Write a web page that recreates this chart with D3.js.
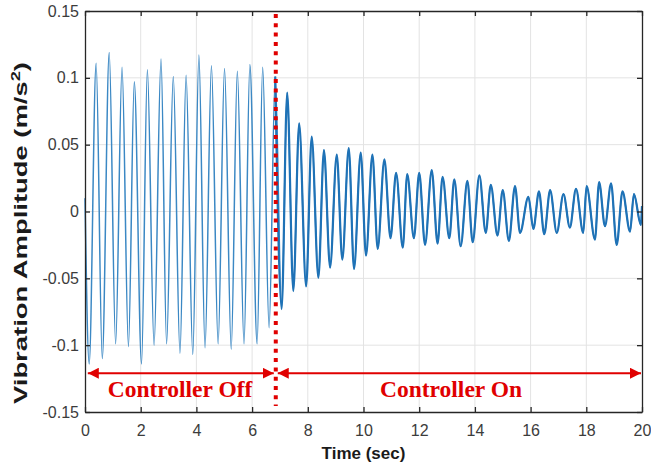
<!DOCTYPE html>
<html>
<head>
<meta charset="utf-8">
<script src="https://cdn.jsdelivr.net/npm/d3@7"></script>
<style>
  body { margin: 0; background: #fff; }
  text { font-family: "Liberation Sans", Arial, sans-serif; }
</style>
</head>
<body>
<div id="chart"></div>
<script>
// peaks and troughs (time in s, amplitude in m/s^2)
const peakTimes = [0.40, 0.87, 1.33, 1.77, 2.24, 2.73, 3.17, 3.63, 4.09, 4.54, 5.01, 5.47, 5.92, 6.38, 6.83,
  7.26, 7.69, 8.14, 8.58, 9.04, 9.47, 9.90, 10.32, 10.75, 11.17, 11.57, 12.00, 12.45, 12.84, 13.26, 13.73,
  14.16, 14.57, 15.00, 15.44, 15.92, 16.30, 16.70, 17.18, 17.63, 18.01, 18.46, 18.89, 19.30, 19.71];
const peakValues = [0.111, 0.119, 0.108, 0.097, 0.106, 0.114, 0.101, 0.102, 0.117, 0.109, 0.107, 0.105, 0.110, 0.108, 0.101,
  0.089, 0.066, 0.056, 0.046, 0.0425, 0.0475, 0.044, 0.0425, 0.039, 0.029, 0.028, 0.029, 0.031, 0.026, 0.024, 0.023,
  0.027, 0.020, 0.016, 0.019, 0.011, 0.015, 0.016, 0.013, 0.017, 0.019, 0.022, 0.021, 0.015, 0.013];
const troughTimes = [0.15, 0.62, 1.10, 1.56, 2.03, 2.48, 2.93, 3.41, 3.87, 4.31, 4.78, 5.25, 5.71, 6.18, 6.61,
  7.06, 7.48, 7.94, 8.38, 8.80, 9.24, 9.66, 10.09, 10.51, 10.97, 11.41, 11.81, 12.21, 12.66, 13.08, 13.49,
  13.92, 14.39, 14.81, 15.22, 15.62, 16.10, 16.49, 16.94, 17.41, 17.89, 18.31, 18.67, 19.09, 19.57, 19.96];
const troughValues = [-0.114, -0.110, -0.099, -0.101, -0.114, -0.100, -0.099, -0.106, -0.107, -0.102, -0.099, -0.103, -0.099, -0.099, -0.087,
  -0.073, -0.0595, -0.056, -0.0495, -0.042, -0.036, -0.043, -0.033, -0.028, -0.020, -0.027, -0.020, -0.025, -0.024, -0.020, -0.026,
  -0.023, -0.016, -0.018, -0.022, -0.016, -0.013, -0.017, -0.016, -0.012, -0.016, -0.021, -0.011, -0.025, -0.015, -0.010];
const startPoint = [0, 0.01];
const endPoint = [20, 0.004];

const xTicks = [0, 2, 4, 6, 8, 10, 12, 14, 16, 18, 20];
const yTicks = [-0.15, -0.1, -0.05, 0, 0.05, 0.1, 0.15];
const yTickLabels = ['-0.15', '-0.1', '-0.05', '0', '0.05', '0.1', '0.15'];
const switchTime = 6.85;
const arrowLevel = -0.121;

const width = 651, height = 465;
const margin = { top: 11, right: 9, bottom: 53, left: 85 };

const svg = d3.select('#chart').append('svg')
  .attr('width', width)
  .attr('height', height);
svg.append('rect').attr('width', width).attr('height', height).attr('fill', '#fff');

const x = d3.scaleLinear().domain([0, 20]).range([margin.left, width - margin.right]);
const y = d3.scaleLinear().domain([-0.15, 0.15]).range([height - margin.bottom, margin.top]);

// grid
svg.append('g').selectAll('line').data(xTicks.slice(1, -1)).join('line')
  .attr('x1', d => x(d)).attr('x2', d => x(d))
  .attr('y1', y(0.15)).attr('y2', y(-0.15))
  .attr('stroke', '#e3e3e3');
svg.append('g').selectAll('line').data(yTicks.slice(1, -1)).join('line')
  .attr('y1', d => y(d)).attr('y2', d => y(d))
  .attr('x1', x(0)).attr('x2', x(20))
  .attr('stroke', '#e3e3e3');

// signal: merge peaks and troughs in time order
let points = [startPoint];
peakTimes.forEach((t, i) => points.push([t, peakValues[i]]));
troughTimes.forEach((t, i) => points.push([t, troughValues[i]]));
points.push(endPoint);
points.sort((a, b) => a[0] - b[0]);

const line = d3.line()
  .x(d => x(d[0]))
  .y(d => y(d[1]))
  .curve(d3.curveMonotoneX);

svg.append('path').datum(points)
  .attr('d', line)
  .attr('fill', 'none')
  .attr('stroke', '#3b88c4')
  .attr('stroke-width', 1.5);

// controller-on part looks thicker (high-frequency fuzz)
svg.append('path').datum(points.filter(d => d[0] >= switchTime - 0.05))
  .attr('d', line)
  .attr('fill', 'none')
  .attr('stroke', '#1f72b6')
  .attr('stroke-width', 2.2);

// axes
const axisColor = '#262626';
const tickColor = '#3c3c3c';

const xAxis = svg.append('g')
  .attr('transform', `translate(0, ${y(-0.15)})`)
  .call(d3.axisBottom(x).tickValues(xTicks).tickSize(-5).tickSizeOuter(0).tickPadding(13));
const yAxis = svg.append('g')
  .attr('transform', `translate(${x(0)}, 0)`)
  .call(d3.axisLeft(y).tickValues(yTicks).tickFormat((d, i) => yTickLabels[i]).tickSize(-5).tickSizeOuter(0).tickPadding(6));
const topAxis = svg.append('g')
  .attr('transform', `translate(0, ${y(0.15)})`)
  .call(d3.axisTop(x).tickValues(xTicks).tickFormat('').tickSize(-5).tickSizeOuter(0));
const rightAxis = svg.append('g')
  .attr('transform', `translate(${x(20)}, 0)`)
  .call(d3.axisRight(y).tickValues(yTicks).tickFormat('').tickSize(-5).tickSizeOuter(0));

[xAxis, yAxis, topAxis, rightAxis].forEach(g => {
  g.select('.domain').attr('stroke', axisColor).attr('stroke-width', 1.3);
  g.selectAll('.tick line').attr('stroke', axisColor).attr('stroke-width', 1.3);
  g.selectAll('.tick text')
    .attr('fill', tickColor)
    .style('font-size', '16px')
    .style('font-family', '"Liberation Sans", Arial, sans-serif');
});

// red annotations
const red = '#e00000';
svg.append('line')
  .attr('x1', x(switchTime)).attr('x2', x(switchTime))
  .attr('y1', y(0.15) + 3).attr('y2', y(-0.15) - 6)
  .attr('stroke', red)
  .attr('stroke-width', 4)
  .attr('stroke-dasharray', '4 5.3');

svg.append('defs').append('marker')
  .attr('id', 'head')
  .attr('viewBox', '0 0 10 10')
  .attr('refX', 10).attr('refY', 5)
  .attr('markerWidth', 11).attr('markerHeight', 11)
  .attr('markerUnits', 'userSpaceOnUse')
  .attr('orient', 'auto-start-reverse')
  .append('path').attr('d', 'M0,0 L10,5 L0,10 Z').attr('fill', red);

svg.append('line')
  .attr('x1', x(0.1)).attr('x2', x(switchTime) - 2)
  .attr('y1', y(arrowLevel)).attr('y2', y(arrowLevel))
  .attr('stroke', red).attr('stroke-width', 2)
  .attr('marker-start', 'url(#head)').attr('marker-end', 'url(#head)');
svg.append('line')
  .attr('x1', x(switchTime) + 2).attr('x2', x(20) - 1)
  .attr('y1', y(arrowLevel)).attr('y2', y(arrowLevel))
  .attr('stroke', red).attr('stroke-width', 2)
  .attr('marker-start', 'url(#head)').attr('marker-end', 'url(#head)');

const labelStyle = sel => sel
  .attr('text-anchor', 'middle')
  .attr('fill', red)
  .style('font-family', '"Liberation Serif", "Times New Roman", serif')
  .style('font-weight', 'bold')
  .style('font-size', '23.5px');
svg.append('text').attr('x', 180).attr('y', 397).text('Controller Off').call(labelStyle);
svg.append('text').attr('x', 451).attr('y', 397).text('Controller On').call(labelStyle);

// axis labels
svg.append('text')
  .attr('x', (x(0) + x(20)) / 2)
  .attr('y', 459)
  .attr('text-anchor', 'middle')
  .attr('fill', '#1a1a1a')
  .style('font-weight', 'bold')
  .style('font-size', '17px')
  .text('Time (sec)');

// the y label is stretched along the axis in the source picture
const yLabel = svg.append('text')
  .attr('transform', `translate(27, 404) rotate(-90)`)
  .attr('text-anchor', 'start')
  .attr('textLength', 342)
  .attr('lengthAdjust', 'spacingAndGlyphs')
  .attr('fill', '#1a1a1a')
  .style('font-weight', 'bold')
  .style('font-size', '18px');
yLabel.append('tspan').text('Vibration Amplitude (m/s');
yLabel.append('tspan').attr('baseline-shift', 'super').style('font-size', '12px').text('2');
yLabel.append('tspan').text(')');
</script>
</body>
</html>
